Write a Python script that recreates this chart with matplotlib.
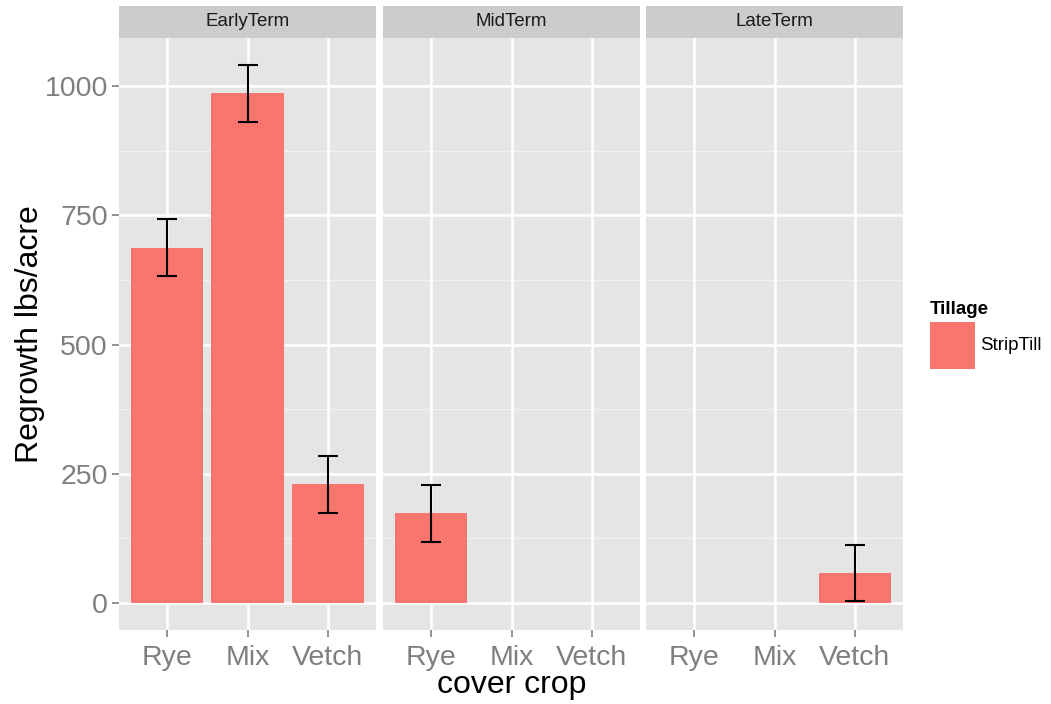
import matplotlib.pyplot as plt

# data
terms = ['EarlyTerm', 'MidTerm', 'LateTerm']
crops = ['Rye', 'Mix', 'Vetch']
regrowth = {
    'EarlyTerm': [687, 986, 230],
    'MidTerm': [174, None, None],
    'LateTerm': [None, None, 58],
}
err = {
    'EarlyTerm': [55, 55, 55],
    'MidTerm': [55, None, None],
    'LateTerm': [None, None, 54],
}
bar_color = '#F8766D'

plt.rcParams['font.family'] = ['Liberation Sans', 'DejaVu Sans']

W, H = 1051, 704
fig = plt.figure(figsize=(W / 100, H / 100), dpi=100)

panel_left = [119, 383, 646]
panel_w = 257
top, bottom = 38, 630
strip_top = 6

ymin, ymax = -52, 1093
axes = []
for i, term in enumerate(terms):
    x0 = panel_left[i]
    ax = fig.add_axes([x0 / W, 1 - bottom / H, panel_w / W, (bottom - top) / H])
    ax.set_facecolor('#E5E5E5')
    for s in ax.spines.values():
        s.set_visible(False)
    # grid
    for y in [125, 375, 625, 875]:
        ax.axhline(y, color='#F2F2F2', lw=0.9, zorder=0)
    for y in [0, 250, 500, 750, 1000]:
        ax.axhline(y, color='white', lw=1.8, zorder=0)
    for x in range(3):
        ax.axvline(x, color='white', lw=1.8, zorder=0)

    vals = regrowth[term]
    es = err[term]
    for j, v in enumerate(vals):
        if v is None:
            continue
        ax.bar(j, v, width=0.9, color=bar_color, zorder=2)
        ax.errorbar(j, v, yerr=es[j], color='black', lw=1.5, capsize=7,
                    capthick=1.5, zorder=3)

    ax.set_xlim(-0.6, 2.6)
    ax.set_ylim(ymin, ymax)
    ax.set_xticks(range(3))
    ax.set_xticklabels(crops)
    ax.tick_params(axis='x', colors='#7F7F7F', labelsize=20.5, length=5,
                   width=1.2, pad=6)
    if i == 0:
        ax.set_yticks([0, 250, 500, 750, 1000])
        ax.set_yticklabels(['0', '250', '500', '750', '1000'])
        ax.tick_params(axis='y', colors='#7F7F7F', labelsize=20.5, length=5,
                       width=1.2, pad=3)
        ax.set_ylabel('Regrowth lbs/acre', fontsize=23, labelpad=0)
    else:
        ax.set_yticks([])

    # strip
    sax = fig.add_axes([x0 / W, 1 - top / H, panel_w / W, (top - strip_top) / H])
    sax.set_facecolor('#CCCCCC')
    sax.set_xticks([])
    sax.set_yticks([])
    for s in sax.spines.values():
        s.set_visible(False)
    sax.text(0.5, 0.5, term, ha='center', va='center', fontsize=13.5,
             color='#1A1A1A', transform=sax.transAxes)
    axes.append(ax)

fig.text((panel_left[1] + panel_w / 2) / W, 1 - 685 / H, 'cover crop',
         ha='center', va='center', fontsize=23)

# legend
fig.text(930 / W, 1 - 309 / H, 'Tillage', ha='left', va='center', fontsize=13.5,
         fontweight='bold')
lax = fig.add_axes([930 / W, 1 - 369 / H, 45 / W, 47 / H])
lax.set_facecolor(bar_color)
lax.set_xticks([])
lax.set_yticks([])
for s in lax.spines.values():
    s.set_visible(False)
fig.text(980 / W, 1 - 346 / H, 'StripTill', ha='left', va='center', fontsize=13.5)

fig.savefig('out.png', dpi=100)
